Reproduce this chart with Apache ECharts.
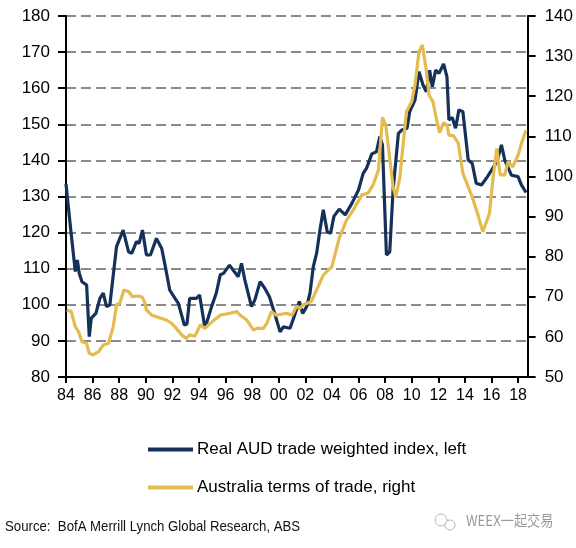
<!DOCTYPE html>
<html>
<head>
<meta charset="utf-8">
<script src="https://cdn.jsdelivr.net/npm/echarts@6/dist/echarts.min.js"></script>
<style>
html,body{margin:0;padding:0;background:#fff;}
#chart{width:576px;height:548px;}
</style>
</head>
<body>
<div id="chart"></div>
<script>
// Real AUD trade weighted index (left axis)
const audYears = [1984.0,1984.35,1984.7,1984.85,1985.0,1985.2,1985.55,1985.75,1985.9,1986.25,1986.55,1986.8,1987.05,1987.3,1987.8,1988.3,1988.7,1988.95,1989.3,1989.5,1989.75,1990.05,1990.35,1990.8,1991.2,1991.45,1991.6,1991.8,1992.2,1992.45,1992.9,1993.1,1993.3,1993.8,1994.05,1994.45,1994.95,1995.3,1995.6,1995.85,1996.3,1996.65,1996.95,1997.2,1997.45,1997.95,1998.2,1998.6,1998.95,1999.3,1999.7,2000.1,2000.35,2000.85,2001.2,2001.55,2001.8,2002.1,2002.35,2002.6,2002.85,2003.1,2003.35,2003.65,2003.9,2004.15,2004.55,2005.0,2005.5,2006.0,2006.35,2006.6,2007.0,2007.35,2007.6,2007.8,2008.1,2008.35,2008.6,2009.0,2009.25,2009.65,2009.85,2010.25,2010.55,2010.85,2011.1,2011.35,2011.55,2011.8,2012.05,2012.4,2012.65,2012.8,2013.05,2013.3,2013.55,2013.85,2014.25,2014.55,2014.85,2015.25,2015.7,2016.4,2016.75,2017.0,2017.5,2018.0,2018.25,2018.6];
const audValues = [133.5,121,109.2,112.4,108.7,106.4,105.5,91.2,96.3,97.6,101.8,103.2,99.5,100,116.1,120.7,114.7,114.3,117.5,117,120.7,113.8,113.8,118.4,115.6,111,110.6,104.1,101.8,100.4,94.4,94.7,101.8,101.8,102.7,93.5,99.5,103.2,108.3,108.7,111,109.2,107.8,111.5,106.9,99.5,101.3,106.4,104.6,102.2,97.6,92.5,93.9,93.5,97.2,100.9,97.6,99.5,103.2,110.6,114.3,120.7,126.3,120.2,119.8,124.5,126.5,124.9,128.1,131.8,136.4,137.8,141.8,142.4,146.6,144.3,113.8,114.7,131.8,147.5,148.4,148.9,153.5,156.7,164.6,160.9,159,165,160.4,165,164.1,166.7,163.2,151.2,151.9,148.9,154,153.5,140.1,139.2,133.7,133.2,135.5,139.6,144.3,140.1,135.9,135.5,133.2,131.1];

// Australia terms of trade (right axis)
const totYears = [1984.05,1984.4,1984.7,1984.95,1985.2,1985.55,1985.75,1986.05,1986.45,1986.8,1987.2,1987.55,1987.8,1988.05,1988.35,1988.7,1989.0,1989.3,1989.7,1989.9,1990.05,1990.45,1990.8,1991.2,1991.55,1991.95,1992.2,1992.7,1993.05,1993.3,1993.7,1994.1,1994.45,1994.85,1995.6,1996.3,1996.85,1997.1,1997.6,1998.1,1998.35,1998.85,1999.1,1999.45,1999.8,2000.6,2001.0,2001.35,2001.6,2001.85,2002.45,2002.85,2003.35,2004.0,2004.55,2005.1,2005.6,2006.25,2006.7,2007.1,2007.5,2007.8,2008.05,2008.3,2008.6,2008.8,2009.1,2009.35,2009.6,2010.0,2010.25,2010.55,2010.8,2011.1,2011.3,2011.6,2011.85,2012.1,2012.4,2012.65,2012.8,2013.15,2013.5,2013.85,2014.25,2014.55,2014.95,2015.35,2015.85,2016.1,2016.4,2016.65,2017.0,2017.25,2017.6,2018.0,2018.3,2018.6];
const totValues = [66.7,66.3,62.5,61.3,58.8,58.4,55.9,55.5,56.3,58,58.4,62.5,68,68.4,71.7,71.3,70,70.2,70,68.8,66.7,65.4,65,64.6,64.2,63.4,62.5,60.5,59.6,60.5,60.2,63,62.1,63.4,65.4,65.9,66.3,65.4,64.2,61.7,62.1,62.1,63.4,66.3,65.4,65.9,65.4,67.7,67.1,68,68.8,71.7,75.4,77.5,84.6,89.1,91.6,95.4,95.8,97.9,101.6,114.7,112.8,105.8,97.4,94.9,99.5,107.8,116.1,118.6,122.8,131.1,132.8,126.5,120.3,118.6,114.5,110.9,113.4,112.8,110.3,110.1,108.3,100.8,97.4,94.9,90.8,86.2,90.8,99.1,107,100.4,100.4,103.7,102.4,105.3,108.7,111.5];

const xTickYears = [1984,1986,1988,1990,1992,1994,1996,1998,2000,2002,2004,2006,2008,2010,2012,2014,2016,2018];
const seriesNames = ['Real AUD trade weighted index, left', 'Australia terms of trade, right'];
const sourceText = 'Source:  BofA Merrill Lynch Global Research, ABS';
const watermarkText = 'WEEX一起交易';

const NAVY = '#15315a';
const GOLD = '#e4bb4e';
const FONT = 'Liberation Sans, Arial, sans-serif';

function pairs(xs, ys){ return xs.map((x,i)=>[x, ys[i]]); }

const chart = echarts.init(document.getElementById('chart'), null, {renderer:'canvas'});
chart.setOption({
  animation:false,
  backgroundColor:'#fff',
  grid:{left:66, right:48, top:16, bottom:171, containLabel:false},
  xAxis:{
    type:'value', min:1984, max:2018.72,
    axisLine:{show:true, onZero:false, lineStyle:{color:'#000', width:2}},
    axisTick:{show:true, length:6, inside:false, customValues:xTickYears, lineStyle:{color:'#000', width:2}},
    axisLabel:{customValues:xTickYears, margin:11, color:'#000', fontSize:16, fontFamily:FONT,
      formatter:(v)=>String(Math.round(v)%100).padStart(2,'0')},
    splitLine:{show:false}
  },
  yAxis:[{
    type:'value', min:80, max:180, interval:10, position:'left',
    axisLine:{show:true, lineStyle:{color:'#000', width:2}},
    axisTick:{show:true, length:8, lineStyle:{color:'#000', width:2}},
    axisLabel:{margin:16, color:'#000', fontSize:17, fontFamily:FONT},
    splitLine:{show:true, lineStyle:{color:'#8a8a8a', width:2, type:[10,5]}}
  },{
    type:'value', min:50, max:140, interval:10, position:'right',
    axisLine:{show:true, lineStyle:{color:'#000', width:2}},
    axisTick:{show:true, length:8, lineStyle:{color:'#000', width:2}},
    axisLabel:{margin:17, color:'#000', fontSize:17, fontFamily:FONT},
    splitLine:{show:false}
  }],
  legend:{
    data:seriesNames, orient:'vertical', left:143, top:436,
    itemWidth:45, itemHeight:4, itemGap:21, icon:'rect',
    textStyle:{fontSize:17, color:'#000', fontFamily:FONT, padding:[0,0,0,-1]}
  },
  graphic:[
    {type:'text', x:5, y:519, scaleX:0.88, style:{text:sourceText, fontSize:15, fill:'#111', fontFamily:FONT}},
    {type:'circle', shape:{cx:441, cy:520, r:6}, style:{fill:'none', stroke:'#b8b8b8', lineWidth:1}},
    {type:'circle', shape:{cx:450, cy:525, r:5}, style:{fill:'#fff', stroke:'#b8b8b8', lineWidth:1}},
    {type:'text', x:466, y:513, scaleX:0.88, style:{text:watermarkText, fontSize:15, fill:'#9a9a9a', fontFamily:'Noto Sans CJK SC, sans-serif'}}
  ],
  series:[{
    name:seriesNames[0], type:'line', yAxisIndex:0, data:pairs(audYears, audValues),
    showSymbol:false, symbol:'none', lineStyle:{color:NAVY, width:3.2}, itemStyle:{color:NAVY}, z:2
  },{
    name:seriesNames[1], type:'line', yAxisIndex:1, data:pairs(totYears, totValues),
    showSymbol:false, symbol:'none', lineStyle:{color:GOLD, width:3.2}, itemStyle:{color:GOLD}, z:3
  }]
});
</script>
</body>
</html>
